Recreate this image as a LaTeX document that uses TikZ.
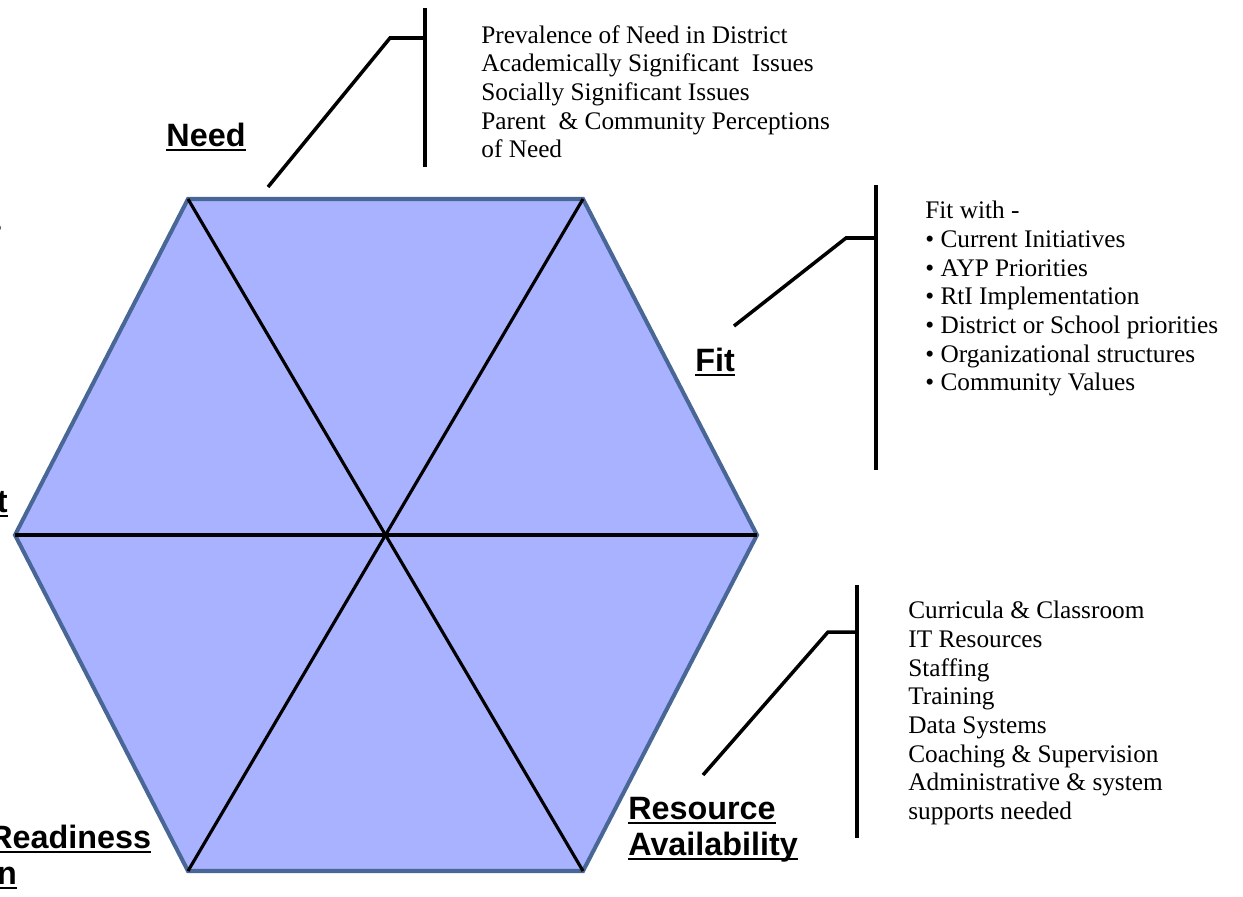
\documentclass[tikz,border=0pt]{standalone}
\usepackage{fontspec}
\setmainfont{Liberation Serif}
\setsansfont{Liberation Sans}
\usetikzlibrary{positioning}
\definecolor{hexfill}{RGB}{169,178,254}
\definecolor{hexedge}{RGB}{72,102,150}
\newcommand{\undln}[1]{\setbox0\hbox{#1}\rlap{\rule[-2.6pt]{\wd0}{1.1pt}}\box0}

\begin{document}
\begin{tikzpicture}
      [
        x=0.02cm, y=-0.02cm,
        heading/.style={font=\sffamily\bfseries\fontsize{18.4}{20.5}\selectfont,inner sep=0pt,align=left},
        notes/.style={font=\fontsize{14.4}{16.3}\selectfont,inner sep=0pt,align=left,anchor=north west},
        hexagon/.style={fill=hexfill,draw=hexedge,line width=2.3pt,line join=miter},
        spoke/.style={black,line width=1.8pt},
        callout/.style={black,line width=2pt}
      ]
      \useasboundingbox (0,0) rectangle (1243,896);
      \begin{scope}[]
        % hexagon
        \coordinate (tl) at (188,199);
        \coordinate (tr) at (583,199);
        \coordinate (r)  at (757,535);
        \coordinate (br) at (583,871);
        \coordinate (bl) at (188,871);
        \coordinate (l)  at (15,535);
        \draw[hexagon] (tl) -- (tr) -- (r) -- (br) -- (bl) -- (l) -- cycle;
        \foreach \a/\b in {tl/br,tr/bl,l/r} {
            \draw[spoke] (\a) -- (\b);
        }
      \end{scope}
      % labels
      \node[heading,anchor=base] (need) at (206,146) {\undln{Need}};
      \node[heading,anchor=base west] (fit) at (695,371) {\undln{Fit}};
      \node[heading,anchor=north west] (resource) at (628,797)
        {\undln{Resource}\\\undln{Availability}};
      \node[heading,anchor=base east] (lefttag) at (8,512) {\undln{t}};
      \node[heading,anchor=north west] (readiness) at (-11,825)
        {\undln{Readiness}\\\hspace*{11\pgflinewidth}\undln{n}};
      \node[notes,anchor=base east] (leftnote) at (2,231) {s};
      % callouts
      \coordinate (need-top)  at (425,8);
      \coordinate (need-bot)  at (425,167);
      \coordinate (need-knee) at (390,38);
      \coordinate (need-tip)  at (268,187);
      \draw[callout] (need-top) -- (need-bot);
      \draw[callout] (need-tip) -- (need-knee) -- (need-knee -| need-top);
      \coordinate (fit-top)  at (876,185);
      \coordinate (fit-bot)  at (876,470);
      \coordinate (fit-knee) at (846,238);
      \coordinate (fit-tip)  at (734,326);
      \draw[callout] (fit-top) -- (fit-bot);
      \draw[callout] (fit-tip) -- (fit-knee) -- (fit-knee -| fit-top);
      \coordinate (res-top)  at (857,585);
      \coordinate (res-bot)  at (857,838);
      \coordinate (res-knee) at (828,632);
      \coordinate (res-tip)  at (703,775);
      \draw[callout] (res-top) -- (res-bot);
      \draw[callout] (res-tip) -- (res-knee) -- (res-knee -| res-top);
      % notes
      \node[notes] (need-notes) at (481,25)
        {Prevalence of Need in District\\
         Academically Significant~ Issues\\
         Socially Significant Issues\\
         Parent~ \& Community Perceptions\\
         of Need};
      \node[notes] (fit-notes) at (925,201)
        {Fit with -\\
         \textbullet\ Current Initiatives\\
         \textbullet\ AYP Priorities\\
         \textbullet\ RtI Implementation\\
         \textbullet\ District or School priorities\\
         \textbullet\ Organizational structures\\
         \textbullet\ Community Values};
      \node[notes] (res-notes) at (908,601)
        {Curricula \& Classroom\\
         IT Resources\\
         Staffing\\
         Training\\
         Data Systems\\
         Coaching \& Supervision\\
         Administrative \& system\\
         supports needed};
    \end{tikzpicture}
\end{document}
